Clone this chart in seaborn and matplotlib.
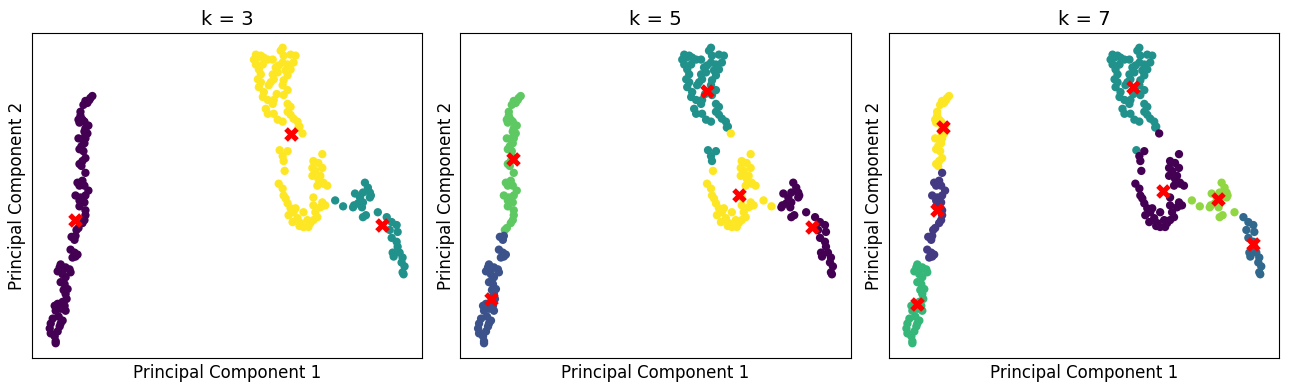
import numpy as np
import pandas as pd
import matplotlib
matplotlib.use("Agg")
import matplotlib.pyplot as plt
import seaborn as sns

# ---- data: projected points, grouped into segments (PC1, PC2; PC2 axis drawn inverted) ----
seg_A = [(90,94),(87,98),(83,99),(81,103),(85,101),(88,96),(78,114),(76,118),(80,118),(77,121),(82,120),
         (86,124),(83,127),(82,130),(85,132),(83,134),(76,137),(80,138),(83,137),(82,142),(79,145),
         (77,148),(81,150),(83,157),(80,160),(77,163),(79,165),(78,110)]
seg_B = [(83,172),(75,182),(77,185),(82,185),(86,190),(73,195),(78,197),(83,195),(77,200),(82,202),
         (77,206),(83,210),(83,215),(82,220),(80,223),(76,228),(74,230),(80,180)]
seg_C = [(69,237),(73,236),(72,240),(68,250),(72,253),(73,257),(75,255),(70,258)]
seg_D = [(58,265),(57,268),(55,272),(60,270),(63,268),(67,270),(68,273),(60,275),(63,278),(58,283),
         (62,285),(65,290),(63,295),(64,300),(60,303),(55,305),(52,307),(53,312),(58,310),(62,307),
         (63,312),(50,320),(48,325),(47,330),(48,335),(52,338),(53,343),(55,333),(57,328),(58,325),
         (60,322),(53,345),(61,291),(56,318)]
seg_E = [(255,52),(253,57),(255,62),(257,55),(260,53),(263,55),(267,57),(272,57),(280,48),(283,53),
         (290,52),(295,53),(293,60),(287,62),(282,60),(278,63),(275,65),(277,70),(272,72),(273,77),
         (270,80),(258,67),(260,72),(257,77),(260,80),(258,85),(263,90),(262,95),(267,98),(272,102),
         (273,98),(268,83),(287,73),(283,78),(282,83),(287,88),(283,93),(287,102),(290,105),(265,107),
         (267,112),(273,112),(277,118),(282,120),(287,110),(290,113),(293,117),(297,120),(299,125),
         (298,126),(282,45),(279,149),(290,67),(285,68),(262,62),(276,92)]
seg_F = [(287,150),(282,155),(283,160)]
seg_G = [(302,132),(284,170),(278,183),(282,188),(283,195),(285,198),(322,153),(313,160),(318,162),
         (312,167),(322,167),(315,170),(320,175),(312,175),(317,185),(323,183),(327,185),(313,197),
         (322,202),(325,205),(287,203),(290,208),(293,212),(295,208),(288,215),(292,222),(297,218),
         (300,223),(303,212),(307,220),(310,223),(308,227),(303,227),(315,212),(317,217),(313,220),
         (320,207),(313,205),(323,182),(323,205),(318,178),(299,226)]
seg_H = [(335,200),(343,206)]
seg_I = [(365,182),(368,187),(370,192),(363,192),(355,193),(360,197),(370,197),(363,202),(358,203),
         (353,207),(362,207),(363,217),(378,212),(366,215),(371,195),(354,205)]
seg_J = [(387,217),(392,222),(397,225),(398,232),(390,230),(392,238),(397,242),(398,247),(393,253),
         (400,253),(403,258),(402,263),(405,267),(403,273),(394,257),(404,275)]

segment_names = ["A", "B", "C", "D", "E", "F", "G", "H", "I", "J"]
segments = [seg_A, seg_B, seg_C, seg_D, seg_E, seg_F, seg_G, seg_H, seg_I, seg_J]

# cluster label of every segment for each k
labels_k3 = [0, 0, 0, 0, 2, 2, 2, 1, 1, 1]
labels_k5 = [3, 3, 1, 1, 2, 2, 4, 4, 0, 0]
labels_k7 = [6, 1, 1, 4, 3, 0, 0, 5, 5, 2]

# cluster centres (in the same coordinates), ordered by label
centers_k3 = [(72,220),(382,225),(290,133)]
centers_k5 = [(384,227),(60,300),(278,89),(82,158),(310,194)]
centers_k7 = [(306,190),(78,210),(397,244),(276,85),(58,305),(361,199),(84,125)]

ks = [3, 5, 7]
all_labels = [labels_k3, labels_k5, labels_k7]
all_centers = [centers_k3, centers_k5, centers_k7]

# ---- build a tidy frame ----
rows = []
for name, seg in zip(segment_names, segments):
    for (px, py) in seg:
        rows.append((name, px, py))
df = pd.DataFrame(rows, columns=["segment", "PC1", "PC2"])

cmap = matplotlib.colormaps["viridis"]

fig, axes = plt.subplots(1, 3, figsize=(12.9, 3.9), dpi=100)
for ax, k, labs, cents in zip(axes, ks, all_labels, all_centers):
    seg_to_lab = dict(zip(segment_names, labs))
    d = df.copy()
    d["cluster"] = d["segment"].map(seg_to_lab)
    palette = {i: cmap(i / (k - 1)) for i in range(k)}
    sns.scatterplot(data=d, x="PC1", y="PC2", hue="cluster", palette=palette,
                    s=36, linewidth=0, legend=False, ax=ax)
    cdf = pd.DataFrame(cents, columns=["PC1", "PC2"])
    sns.scatterplot(data=cdf, x="PC1", y="PC2", color="red", marker="X",
                    s=110, linewidth=0, legend=False, ax=ax)
    ax.invert_yaxis()
    ax.set_title(f"k = {k}", fontsize=14)
    ax.set_xlabel("Principal Component 1", fontsize=12)
    ax.set_ylabel("Principal Component 2", fontsize=12)
    ax.set_xticks([])
    ax.set_yticks([])

fig.subplots_adjust(left=32/1290, right=1279/1290, bottom=1 - 358/390, top=1 - 33/390,
                    wspace=38/390)
fig.savefig("out.png", dpi=100)
